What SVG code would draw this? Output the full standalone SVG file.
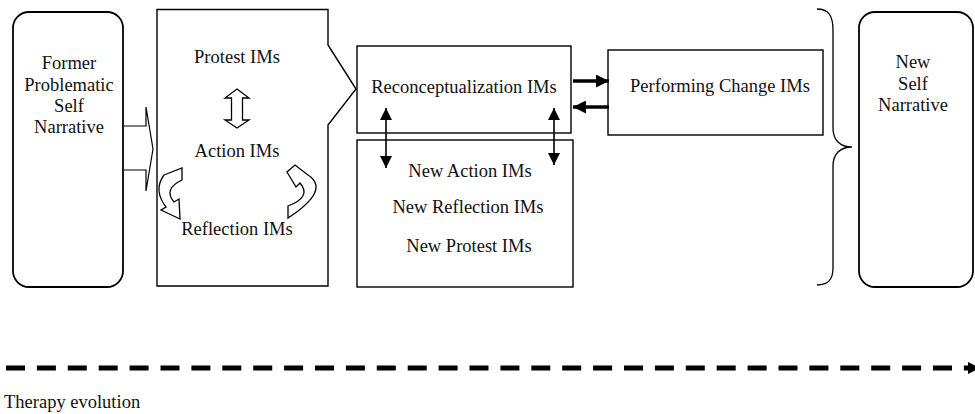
<svg xmlns="http://www.w3.org/2000/svg" width="975" height="414" viewBox="0 0 975 414">
<defs>
<style>
.box{fill:#fff;stroke:#000;stroke-width:1.4}
.rbox{fill:#fff;stroke:#000;stroke-width:1.8}
.hollow{fill:#fff;stroke:#000;stroke-width:1.3;stroke-linejoin:miter}
.t{font-family:"Liberation Serif","Times New Roman",serif;font-size:18.5px;fill:#111;text-anchor:middle}
.thin{stroke:#000;stroke-width:1.6;fill:none}
.thick{stroke:#000;stroke-width:3.6;fill:none}
</style>
<marker id="ah" viewBox="0 0 12 12" refX="12" refY="6" markerWidth="12" markerHeight="12" markerUnits="userSpaceOnUse" orient="auto-start-reverse">
<path d="M0,0 L12,6 L0,12 Z" fill="#000"/>
</marker>
<marker id="ahb" viewBox="0 0 13 13" refX="13" refY="6.5" markerWidth="13" markerHeight="13" markerUnits="userSpaceOnUse" orient="auto">
<path d="M0,0 L13,6.5 L0,13 Z" fill="#000"/>
</marker>
</defs>
<rect width="975" height="414" fill="#fff"/>

<g id="former">
<rect class="rbox" x="13" y="12" width="110" height="275" rx="16"/>
<text class="t" x="69" y="69">Former</text>
<text class="t" x="69" y="91">Problematic</text>
<text class="t" x="69" y="112">Self</text>
<text class="t" x="69" y="133">Narrative</text>
</g>

<g id="early">
<path class="box" d="M157 9.5 L328 9.5 L328 45 L356 89 L328 125 L328 286 L157 286 Z"/>
<text class="t" x="237" y="63">Protest IMs</text>
<text class="t" x="237" y="157">Action IMs</text>
<text class="t" x="237" y="235">Reflection IMs</text>
<path class="hollow" d="M237 89 L249 98 L242.5 98 L242.5 120 L249 120 L237 128 L225 120 L231.5 120 L231.5 98 L225 98 Z"/>
<path class="hollow" d="M164 175 L182 168 L182 180 Q163 189 174 202 L179 199 L180 219 L161 210 L166 207 Q153 190 164 175 Z"/>
<path class="hollow" d="M288 206 L288 218 Q331 190 308 175 L295 165 L287 172 L296 187 L300 183 Q312 197 288 206 Z"/>
</g>

<g id="reconceptualization">
<rect class="box" x="357" y="46" width="214" height="87"/>
<text class="t" x="464" y="93">Reconceptualization IMs</text>
</g>

<g id="new-ims">
<rect class="box" x="357" y="140" width="216" height="147"/>
<text class="t" x="470" y="177">New Action IMs</text>
<text class="t" x="468" y="213">New Reflection IMs</text>
<text class="t" x="469" y="252">New Protest IMs</text>
</g>

<g id="performing">
<rect class="box" x="608" y="50" width="215" height="85"/>
<text class="t" x="720" y="92">Performing Change IMs</text>
</g>

<g id="new-self">
<rect class="rbox" x="859" y="12" width="114" height="275" rx="16"/>
<text class="t" x="913" y="68">New</text>
<text class="t" x="913" y="90">Self</text>
<text class="t" x="913" y="111">Narrative</text>
</g>

<g id="connectors">
<path d="M124 126 L146 126 L146 107 L153 149 L146 191 L146 170 L124 170" fill="#fff" stroke="#000" stroke-width="1.2"/>
<line class="thin" x1="386" y1="108" x2="386" y2="168" marker-start="url(#ah)" marker-end="url(#ah)"/>
<line class="thin" x1="554" y1="108" x2="554" y2="165" marker-start="url(#ah)" marker-end="url(#ah)"/>
<line class="thick" x1="573" y1="81" x2="609" y2="81" marker-end="url(#ahb)"/>
<line class="thick" x1="609" y1="107" x2="573" y2="107" marker-end="url(#ahb)"/>
<path class="thin" style="stroke-width:1.3" d="M817 9 C828 9 833 15 833 30 L833 128 C833 140 840 147 852 147 C840 147 833 154 833 166 L833 268 C833 280 828 285 817 285"/>
<line x1="6" y1="368" x2="968" y2="368" stroke="#000" stroke-width="5" stroke-dasharray="19 11.9"/>
<path d="M968 362 L980 368 L968 374 Z" fill="#000"/>
</g>

<text x="4" y="408" style="font-family:'Liberation Serif','Times New Roman',serif;font-size:18.5px;fill:#111">Therapy evolution</text>
</svg>
